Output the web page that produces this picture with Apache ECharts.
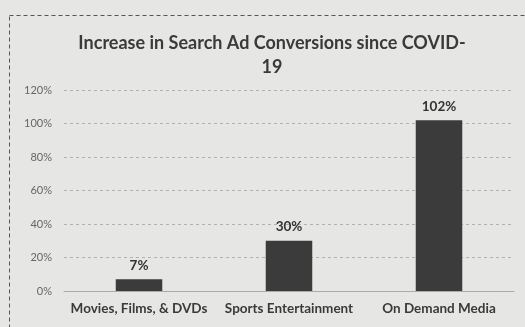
<!DOCTYPE html>
<html><head><meta charset="utf-8">
<script src="https://cdn.jsdelivr.net/npm/echarts@6/dist/echarts.min.js"></script>
<style>html,body{margin:0;padding:0;background:#e6e6e4;}#c{width:525px;height:327px;}</style>
</head><body><div id="c"></div>
<script>
const categories = ["Movies, Films, & DVDs", "Sports Entertainment", "On Demand Media"];
const values = [7, 30, 102];
const yTicks = [0, 20, 40, 60, 80, 100, 120];
const titleText = "Increase in Search Ad Conversions since COVID-\n19";

const chart = echarts.init(document.getElementById('c'));
chart.setOption({
  backgroundColor: '#e6e6e4',
  animation: false,
  graphic: [{
    type: 'rect', left: 7, top: 13, shape: {width: 530, height: 330},
    style: {fill: 'none', stroke: '#555', lineWidth: 1, lineDash: [4, 3]}
  }],
  title: {
    text: titleText, left: 267, textAlign: 'center', top: 26,
    textStyle: {fontFamily: 'Lato', fontSize: 18, fontWeight: 'bold', color: '#3a3a3a', lineHeight: 24}
  },
  grid: {left: 64, right: 11, top: 90, bottom: 36},
  xAxis: {
    type: 'category', data: categories,
    axisLine: {lineStyle: {color: '#aaa'}}, axisTick: {show: false},
    axisLabel: {color: '#3a3a3a', fontFamily: 'Lato', fontWeight: 'bold', fontSize: 13.5, margin: 11, interval: 0}
  },
  yAxis: {
    type: 'value', min: yTicks[0], max: yTicks[yTicks.length - 1], interval: 20,
    axisLine: {show: false}, axisTick: {show: false},
    axisLabel: {formatter: '{value}%', color: '#666', fontFamily: 'Lato', fontSize: 11, margin: 12},
    splitLine: {lineStyle: {color: '#b0b0b0', type: [3, 3]}}
  },
  series: [{
    type: 'bar', data: values, barWidth: '31%',
    itemStyle: {color: '#3b3b3b'},
    label: {show: true, position: 'top', formatter: '{c}%', color: '#333', fontFamily: 'Lato', fontWeight: 'bold', fontSize: 13.5, distance: 7}
  }]
});
</script></body></html>
